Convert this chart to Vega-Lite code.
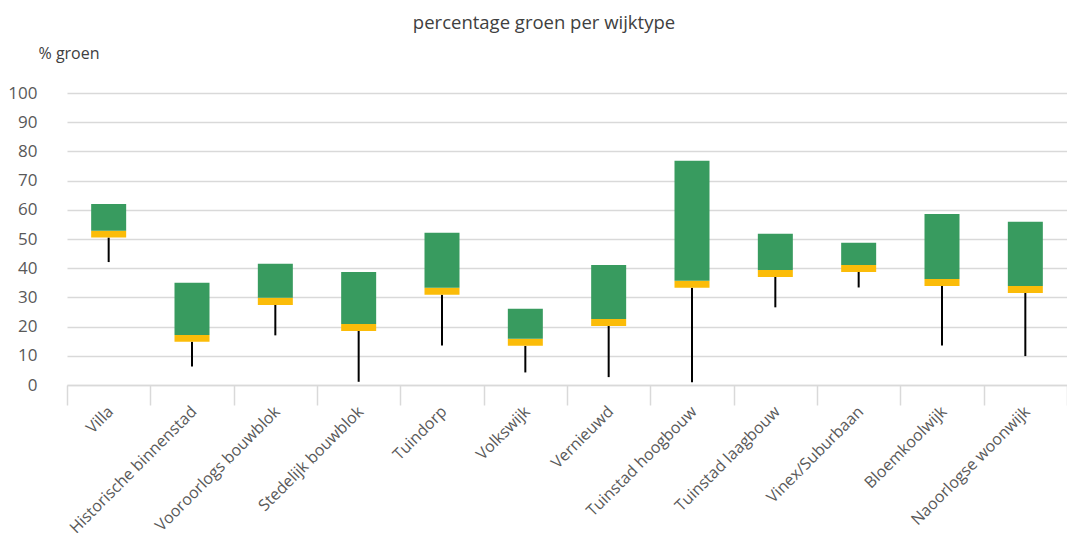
{
  "$schema": "https://vega.github.io/schema/vega-lite/v6.json",
  "width": 1000,
  "height": 292,
  "autosize": "none",
  "padding": {"left": 67, "top": 93, "right": 0, "bottom": 148},
  "background": "white",
  "view": {"stroke": null},
  "title": {
    "text": "percentage groen per wijktype",
    "font": "Open Sans",
    "fontSize": 18.5,
    "fontWeight": "normal",
    "color": "#404040",
    "anchor": "middle",
    "frame": "group",
    "dx": -23,
    "offset": 13
  },
  "data": {
    "values": [
      {"wijktype": "Villa", "min": 42.1, "low": 50.5, "mid": 52.8, "max": 62.0},
      {"wijktype": "Historische binnenstad", "min": 6.3, "low": 14.8, "mid": 17.1, "max": 35.0},
      {"wijktype": "Vooroorlogs bouwblok", "min": 17.0, "low": 27.4, "mid": 29.9, "max": 41.5},
      {"wijktype": "Stedelijk bouwblok", "min": 1.1, "low": 18.5, "mid": 20.9, "max": 38.7},
      {"wijktype": "Tuindorp", "min": 13.5, "low": 30.9, "mid": 33.3, "max": 52.1},
      {"wijktype": "Volkswijk", "min": 4.3, "low": 13.4, "mid": 15.8, "max": 26.1},
      {"wijktype": "Vernieuwd", "min": 2.7, "low": 20.2, "mid": 22.6, "max": 41.1},
      {"wijktype": "Tuinstad hoogbouw", "min": 0.9, "low": 33.3, "mid": 35.7, "max": 76.8},
      {"wijktype": "Tuinstad laagbouw", "min": 26.6, "low": 37.0, "mid": 39.4, "max": 51.8},
      {"wijktype": "Vinex/Suburbaan", "min": 33.4, "low": 38.7, "mid": 41.1, "max": 48.7},
      {"wijktype": "Bloemkoolwijk", "min": 13.5, "low": 33.9, "mid": 36.3, "max": 58.6},
      {"wijktype": "Naoorlogse woonwijk", "min": 9.9, "low": 31.5, "mid": 33.9, "max": 55.9}
    ]
  },
  "config": {
    "axisY": {
      "titleAngle": 0,
      "titleX": -29,
      "titleY": -40,
      "titleAlign": "left",
      "titleBaseline": "middle",
      "titleFont": "Open Sans",
      "titleFontSize": 16,
      "titleFontWeight": "normal",
      "titleColor": "#404040",
      "labelOverlap": false,
      "labelFont": "Open Sans",
      "labelFontSize": 17,
      "labelFontWeight": "normal",
      "labelColor": "#595959",
      "labelPadding": 30,
      "ticks": false,
      "domain": false,
      "grid": true,
      "gridColor": "#d9d9d9",
      "gridWidth": 1.5
    }
  },
  "encoding": {
    "x": {
      "field": "wijktype",
      "type": "nominal",
      "sort": null,
      "scale": {"paddingInner": 0, "paddingOuter": 0},
      "axis": {
        "title": null,
        "labelAngle": -45,
        "labelFont": "Open Sans",
        "labelFontSize": 16,
        "labelFontWeight": "normal",
        "labelColor": "#595959",
        "labelPadding": -2,
        "labelOffset": -4,
        "labelOverlap": false,
        "labelLimit": 300,
        "tickBand": "extent",
        "tickSize": 20,
        "tickColor": "#d9d9d9",
        "tickWidth": 1.5,
        "domainColor": "#d9d9d9",
        "domainWidth": 1.5,
        "grid": false
      }
    }
  },
  "layer": [
    {
      "mark": {"type": "rule", "color": "black", "strokeWidth": 2},
      "encoding": {
        "y": {
          "field": "min",
          "type": "quantitative",
          "scale": {"domain": [0, 100], "nice": false},
          "axis": {"title": "%  groen", "values": [0, 10, 20, 30, 40, 50, 60, 70, 80, 90, 100]}
        },
        "y2": {"field": "low"}
      }
    },
    {
      "mark": {"type": "bar", "color": "#fbbc09", "width": 35},
      "encoding": {
        "y": {"field": "low", "type": "quantitative", "axis": {"title": "%  groen", "values": [0, 10, 20, 30, 40, 50, 60, 70, 80, 90, 100]}},
        "y2": {"field": "mid"}
      }
    },
    {
      "mark": {"type": "bar", "color": "#389b5f", "width": 35},
      "encoding": {
        "y": {"field": "mid", "type": "quantitative", "axis": {"title": "%  groen", "values": [0, 10, 20, 30, 40, 50, 60, 70, 80, 90, 100]}},
        "y2": {"field": "max"}
      }
    }
  ]
}
